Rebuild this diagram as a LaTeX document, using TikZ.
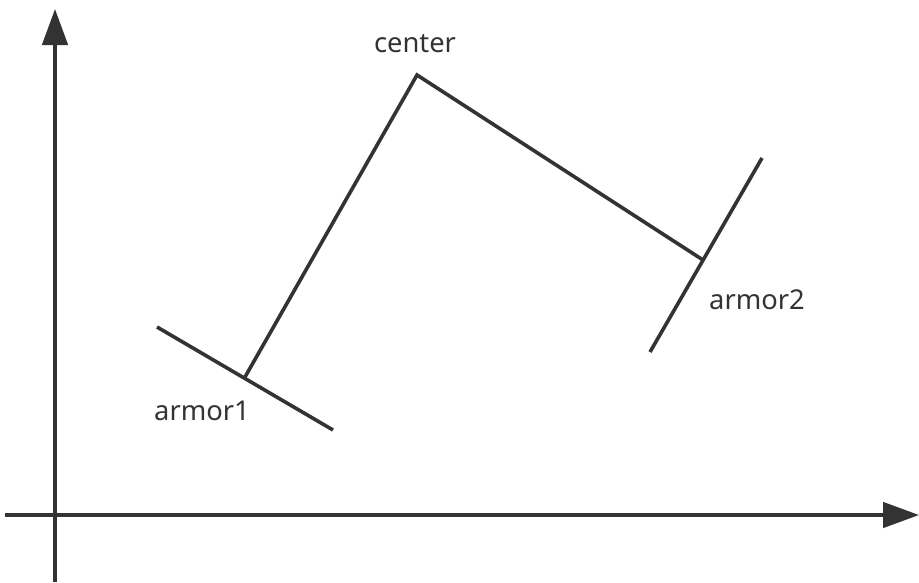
\documentclass[tikz,border=0pt]{standalone}
\usepackage{fontspec}
\setmainfont{Noto Sans}
\usetikzlibrary{arrows.meta}
\begin{document}
\begin{tikzpicture}[x=0.75pt, y=-0.75pt,
    line/.style={line width=2.7pt, draw=black!80},
    axis/.style={line/.try, -{Triangle[length=27pt, width=19pt]}},
    label/.style={text=black!80, font=\fontsize{20.5}{24}\selectfont, inner sep=0pt}]
	\useasboundingbox (0,0) rectangle (919,582);
	% 坐标轴
	\coordinate (xs) at (5,515);
	\coordinate (xe) at (919,515);
	\coordinate (ys) at (55,582);
	\coordinate (ye) at (55,9);
	\draw[line, axis] (xs) -- (xe);
	\draw[line, axis] (ys) -- (ye);
	
	% 中心点与两块装甲
	\coordinate (center) at (417,75);
	\coordinate (armor1) at (245,377);
	\coordinate (armor2) at (703,260);
	\draw[line] (armor1) -- (center) -- (armor2);
	
	% 装甲板
	\coordinate (a1l) at (157,327);
	\coordinate (a1r) at (333,430);
	\coordinate (a2t) at (762,158);
	\coordinate (a2b) at (650,352);
	\draw[line] (a1l) -- (a1r);
	\draw[line] (a2t) -- (a2b);
	
	\node[label] (lc) at (415,44) {center};
	\node[label] (l1) at (202,411) {armor1};
	\node[label] (l2) at (757,300) {armor2};
\end{tikzpicture}
\end{document}
